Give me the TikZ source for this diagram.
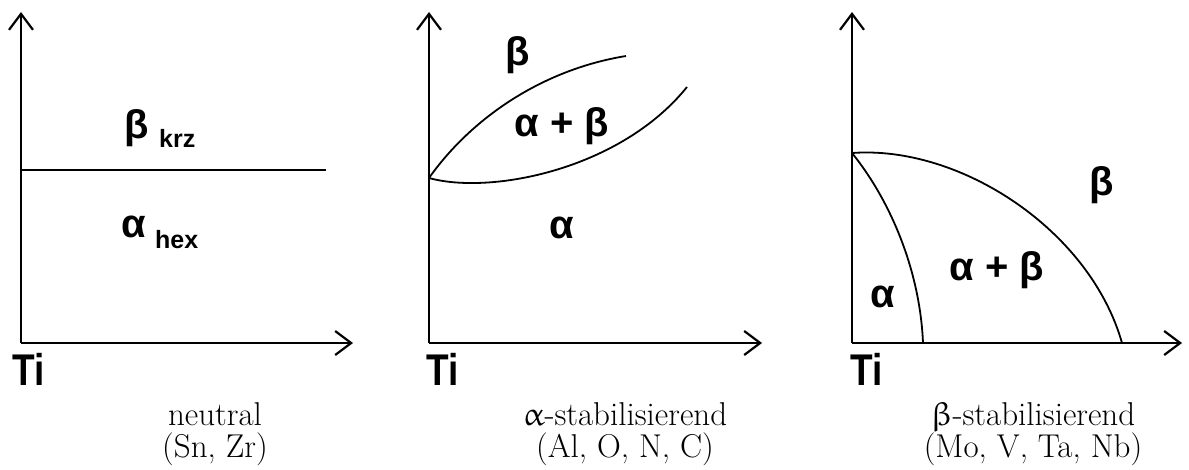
\documentclass[tikz,border=0pt]{standalone}
\usepackage{fontspec}
\usepackage{graphicx}
\usepackage[Euler]{upgreek}
\usetikzlibrary{arrows.meta}
\newfontfamily\labfont{Liberation Sans}
\newcommand{\tall}[1]{\scalebox{1}[1.2]{#1}}
\tikzset{
  axis/.style={line width=2.2pt, -{Straight Barb[length=16pt,width=24pt,line width=2.2pt]}},
  curve/.style={line width=1.8pt},
  phase/.style={font=\labfont\bfseries\fontsize{40}{40}\selectfont, inner sep=0pt},
  sublab/.style={font=\labfont\bfseries\fontsize{25}{25}\selectfont, inner sep=0pt, anchor=base west},
  tilab/.style={font=\labfont\bfseries\fontsize{37}{37}\selectfont, inner sep=0pt, anchor=base west},
  caplab/.style={font=\fontsize{33}{38}\selectfont, inner sep=0pt, anchor=base}
}
\begin{document}
\begin{tikzpicture}[x=1pt,y=-1pt]
\useasboundingbox (0,0) rectangle (1189,469);
% panel 1
\coordinate (o1) at (21,343);
\coordinate (y1) at (21,12);
\coordinate (x1) at (353,343);
\coordinate (h1a) at (21,170);
\coordinate (h1b) at (326,170);
\draw[axis] (o1) -- (y1);
\draw[axis] (o1) -- (x1);
\draw[curve] (h1a) -- (h1b);
\node[phase] (b1) at (137,128) {β};
\node[sublab] (b1s) at (159,147) {krz};
\node[phase] (a1) at (134,227) {α};
\node[sublab] (a1s) at (155,248) {hex};
\node[tilab] (ti1) at (12,385) {\tall{Ti}};
% panel 2
\coordinate (o2) at (429,343);
\coordinate (y2) at (429,12);
\coordinate (x2) at (762,343);
\coordinate (p2) at (429,178);
\coordinate (u2) at (626,56);
\coordinate (l2) at (687,87);
\draw[axis] (o2) -- (y2);
\draw[axis] (o2) -- (x2);
\draw[curve] (p2) .. controls (470,120) and (540,70) .. (u2);
\draw[curve] (p2) .. controls (490,195) and (620,170) .. (l2);
\node[phase] (b2) at (518,55) {β};
\node[phase] (ab2) at (562,126) {α + β};
\node[phase] (a2) at (562,228) {α};
\node[tilab] (ti2) at (426,385) {\tall{Ti}};
% panel 3
\coordinate (o3) at (852,343);
\coordinate (y3) at (852,12);
\coordinate (x3) at (1182,343);
\coordinate (p3) at (852,153);
\coordinate (q3) at (923,343);
\coordinate (r3) at (1122,343);
\draw[axis] (o3) -- (y3);
\draw[axis] (o3) -- (x3);
\draw[curve] (p3) .. controls (890,200) and (920,270) .. (q3);
\draw[curve] (p3) .. controls (960,145) and (1090,230) .. (r3);
\node[phase] (b3) at (1102,185) {β};
\node[phase] (ab3) at (997,270) {α + β};
\node[phase] (a3) at (883,297) {α};
\node[tilab] (ti3) at (850,385) {\tall{Ti}};
% captions
\node[caplab] (c1a) at (215,425) {neutral};
\node[caplab] (c1b) at (215,457) {(Sn, Zr)};
\node[caplab] (c2a) at (625,425) {$\upalpha$-stabilisierend};
\node[caplab] (c2b) at (625,457) {(Al, O, N, C)};
\node[caplab] (c3a) at (1033,425) {$\upbeta$-stabilisierend};
\node[caplab] (c3b) at (1033,457) {(Mo, V, Ta, Nb)};
\end{tikzpicture}
\end{document}
